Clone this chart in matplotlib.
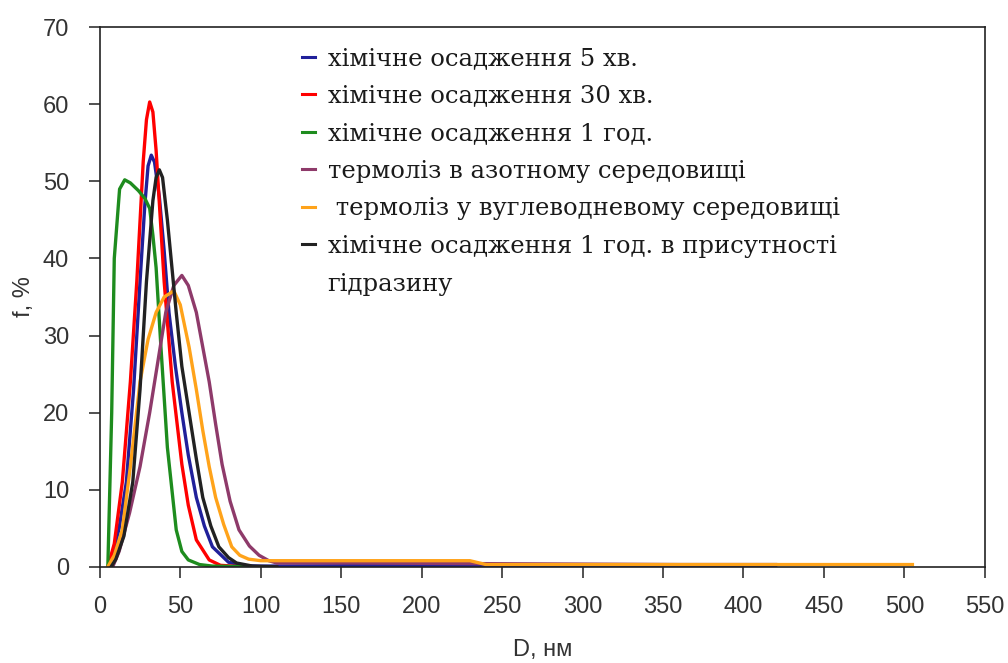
import matplotlib.pyplot as plt
from matplotlib.lines import Line2D

# series (D in nm, f in %)
d_5min = [5, 8, 12, 16.5, 21, 25, 28, 30, 32, 34, 37, 40, 43, 47, 51, 55, 60, 65, 70, 80, 90, 100, 150, 250, 420]
f_5min = [0, 1.5, 5, 11, 23, 37, 47, 52, 53.4, 52.5, 48, 41, 33, 26, 20, 14.5, 9, 5.3, 2.6, 0.6, 0.15, 0.1, 0.15, 0.2, 0.2]

d_30min = [5, 9, 14, 19, 23, 27, 29, 31, 33, 35, 40, 45, 51, 55, 60, 68, 75, 90]
f_30min = [0, 3, 11, 24, 37, 52.6, 58, 60.3, 59, 54, 37, 24, 13.3, 8, 3.5, 0.9, 0.2, 0]

d_1h = [5, 7.4, 9, 12.3, 15.5, 19, 24, 28, 31, 33, 35, 38, 42, 47.5, 51, 55, 62, 70, 100]
f_1h = [0, 20, 40, 49, 50.2, 49.8, 48.8, 47.8, 46.5, 43, 38.8, 28.5, 15.5, 4.8, 2, 0.9, 0.3, 0.1, 0]

d_n2 = [8, 12, 18.5, 25, 31, 36, 41, 46, 51, 55, 60, 64, 68, 72, 76, 81, 86.5, 93, 99, 105, 110, 155, 360, 420]
f_n2 = [0, 2, 7, 13, 20, 26.5, 33, 36.5, 37.8, 36.5, 33, 28.5, 24, 18.5, 13.3, 8.5, 4.8, 2.7, 1.5, 0.8, 0.5, 0.5, 0.3, 0.3]

d_hc = [5, 9, 14, 19, 25, 30, 35, 40, 46, 50, 55.5, 60, 64, 68, 72, 77, 82, 87, 92.5, 100, 105, 150, 230, 240, 505]
f_hc = [0, 1.5, 4.8, 13, 24, 29.5, 33, 35, 35.8, 34, 28.5, 23, 17.7, 13, 9, 5.5, 2.6, 1.5, 1, 0.8, 0.8, 0.8, 0.8, 0.3, 0.3]

d_hydr = [7, 10, 15, 20.5, 25, 29, 33, 35, 37, 39, 42, 47.5, 51, 55.5, 60, 64, 69, 74, 80, 85, 95, 110]
f_hydr = [0, 1, 4, 11, 23, 37, 47.5, 50.5, 51.5, 50.5, 45, 33, 26, 20, 14, 9, 5.3, 2.6, 1.2, 0.5, 0.1, 0]

labels = [
    "хімічне осадження 5 хв.",
    "хімічне осадження 30 хв.",
    "хімічне осадження 1 год.",
    "термоліз в азотному середовищі",
    " термоліз у вуглеводневому середовищі",
    "хімічне осадження 1 год. в присутності",
]
colors = ["#20209a", "#ff0000", "#1e8c1e", "#8e3a6a", "#ffa31a", "#222222"]
series = [(d_5min, f_5min), (d_30min, f_30min), (d_1h, f_1h),
          (d_n2, f_n2), (d_hc, f_hc), (d_hydr, f_hydr)]

fig = plt.figure(figsize=(10.08, 6.63), dpi=100)
ax = fig.add_axes([0.099, 0.145, 0.878, 0.814])

for (d, f), c in zip(series, colors):
    ax.plot(d, f, color=c, lw=2.4)

ax.set_xlim(0, 550)
ax.set_ylim(0, 70)
ax.set_xticks(range(0, 551, 50))
ax.set_yticks(range(0, 71, 10))
ax.tick_params(labelsize=17, colors="#333333", length=8, direction="out", width=1.2)
ax.tick_params(axis="x", pad=13)
ax.tick_params(axis="y", pad=14)
for lab in ax.get_xticklabels() + ax.get_yticklabels():
    lab.set_fontfamily("Liberation Sans")
for sp in ax.spines.values():
    sp.set_color("#222222")
    sp.set_linewidth(1.2)
ax.set_xlabel("D, нм", fontsize=17, family="Liberation Sans", color="#333333", labelpad=15)
ax.set_ylabel("f, %", fontsize=17, family="Liberation Sans", color="#333333", labelpad=6)

handles = [Line2D([], [], color=c, lw=2.2) for c in colors]
handles.append(Line2D([], [], color="none"))
leg = fig.legend(handles, labels + ["гідразину"], loc="upper left",
                 bbox_to_anchor=(0.278, 0.962), frameon=False,
                 handlelength=0.55, handletextpad=0.5, labelspacing=0.6,
                 prop={"family": "DejaVu Serif", "size": 17.5})
for t in leg.get_texts():
    t.set_color("#1a1a1a")

fig.savefig("out.png", dpi=100)
